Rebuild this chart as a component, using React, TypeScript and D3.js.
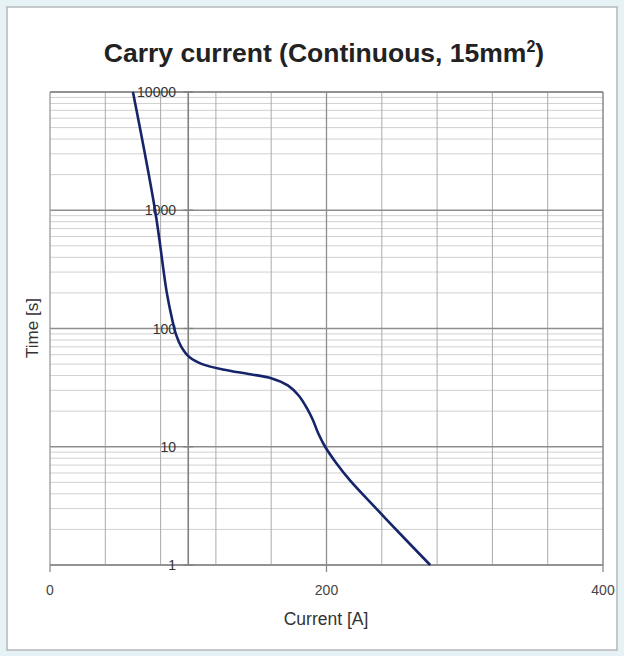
import React from "react";
import * as d3 from "d3";

const currentA = [60, 76, 84.5, 88, 91, 95, 101, 110, 125, 145, 160, 172, 180, 186, 190, 194, 199, 207, 217, 236, 256, 275];
const timeS = [10000, 1000, 200, 125, 90, 70, 57, 50, 45, 41, 38, 33, 27, 21, 17, 13, 10, 7.3, 5.2, 3.0, 1.7, 1];
const xTickLabels = [0, 200, 400];
const yTickLabels = [1, 10, 100, 1000, 10000];
const xMinorGrid = [40, 80, 120, 160, 240, 280, 320, 360];
const yAxisAt = 100;

export default function App() {
  const W = 624, H = 656;
  const x = d3.scaleLinear().domain([0, 400]).range([50, 603]);
  const y = d3.scaleLog().domain([1, 10000]).range([565, 92]);

  const minorY: number[] = [];
  [1, 10, 100, 1000].forEach((d) => {
    for (let k = 2; k <= 9; k++) minorY.push(k * d);
  });

  const pts = currentA.map((c, i) => [c, timeS[i]] as [number, number]);
  const line = d3
    .line<[number, number]>()
    .x((d) => x(d[0]))
    .y((d) => y(d[1]))
    .curve(d3.curveCatmullRom.alpha(0.5));

  const font = "'Liberation Sans', Arial, Helvetica, sans-serif";

  return (
    <svg
      width={W}
      height={H}
      style={{ position: "absolute", left: 0, top: 0 }}
      fontFamily={font}
    >
      <rect x={0} y={0} width={W} height={H} fill="#e6f2f6" />
      <rect x={7} y={7} width={610} height={643} fill="#ffffff" stroke="#b4b8b8" strokeWidth={1.5} />

      <text x={324} y={62} textAnchor="middle" fontSize={26.5} fontWeight="bold" fill="#222">
        Carry current (Continuous, 15mm
        <tspan fontSize={16} dy={-10}>2</tspan>
        <tspan dy={10}>)</tspan>
      </text>

      {/* minor horizontal grid */}
      {minorY.map((v) => (
        <line key={"hy" + v} x1={x(0)} x2={x(400)} y1={y(v)} y2={y(v)} stroke="#d0d0d0" strokeWidth={1} />
      ))}
      {/* vertical grid */}
      {xMinorGrid.map((v) => (
        <line key={"vx" + v} x1={x(v)} x2={x(v)} y1={y(10000)} y2={y(1)} stroke="#ababab" strokeWidth={1} />
      ))}
      {/* major horizontal grid */}
      {yTickLabels.map((v) => (
        <line key={"my" + v} x1={x(0)} x2={x(400)} y1={y(v)} y2={y(v)} stroke="#8e8e8e" strokeWidth={1.3} />
      ))}
      {/* major vertical at 200 */}
      <line x1={x(200)} x2={x(200)} y1={y(10000)} y2={y(1)} stroke="#8e8e8e" strokeWidth={1.3} />
      {/* frame */}
      <line x1={x(0)} x2={x(0)} y1={y(10000)} y2={y(1)} stroke="#9a9a9a" strokeWidth={1.3} />
      <line x1={x(400)} x2={x(400)} y1={y(10000)} y2={y(1)} stroke="#8a8a8a" strokeWidth={1.5} />
      <line x1={x(0)} x2={x(400)} y1={y(10000)} y2={y(10000)} stroke="#8a8a8a" strokeWidth={1.3} />
      <line x1={x(0)} x2={x(400)} y1={y(1)} y2={y(1)} stroke="#8a8a8a" strokeWidth={1.5} />
      {/* y axis at 100 */}
      <line x1={x(yAxisAt)} x2={x(yAxisAt)} y1={y(10000)} y2={y(1)} stroke="#808080" strokeWidth={1.6} />

      {/* x ticks */}
      {xTickLabels.map((v) => (
        <g key={"xt" + v}>
          <line x1={x(v)} x2={x(v)} y1={y(1)} y2={y(1) + 7} stroke="#8a8a8a" strokeWidth={1.3} />
          <text x={x(v)} y={595} textAnchor="middle" fontSize={14} fill="#444">
            {v}
          </text>
        </g>
      ))}
      {/* y ticks */}
      {yTickLabels.map((v) => (
        <g key={"yt" + v}>
          <line x1={x(yAxisAt) - 5} x2={x(yAxisAt) + 5} y1={y(v)} y2={y(v)} stroke="#808080" strokeWidth={1.3} />
          <text x={176} y={y(v) + 5} textAnchor="end" fontSize={14} fill="#333">
            {v}
          </text>
        </g>
      ))}

      <path d={line(pts) || ""} fill="none" stroke="#16246a" strokeWidth={2.6} />

      <text x={326} y={625} textAnchor="middle" fontSize={17.5} fill="#333">
        Current [A]
      </text>
      <text
        transform={`translate(38,328) rotate(-90)`}
        textAnchor="middle"
        fontSize={17}
        fill="#333"
      >
        Time [s]
      </text>
    </svg>
  );
}
